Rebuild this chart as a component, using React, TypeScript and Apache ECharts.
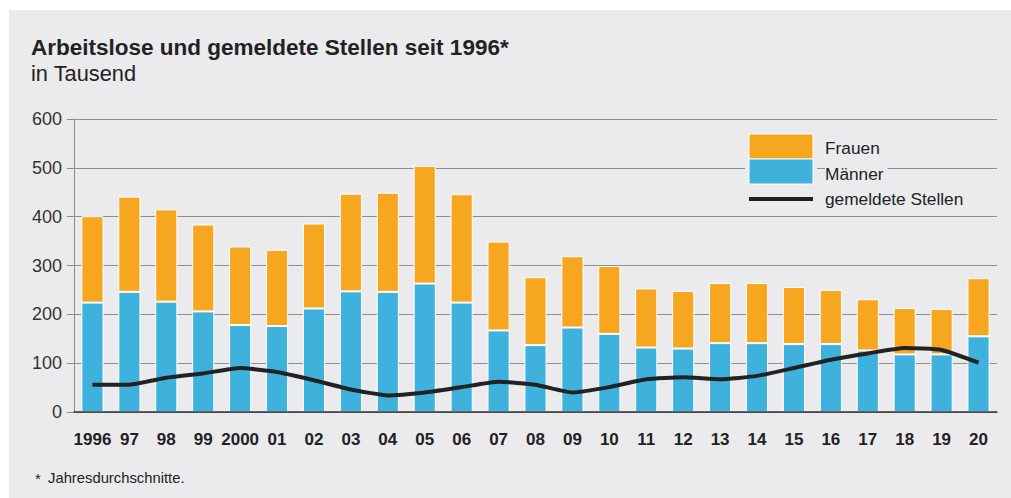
import React, { useEffect, useRef } from "react";
import * as echarts from "echarts";

const years = ["1996","97","98","99","2000","01","02","03","04","05","06","07","08","09","10","11","12","13","14","15","16","17","18","19","20"];
const maenner = [224,246,226,206,178,176,212,247,246,263,224,167,137,173,160,132,130,141,141,139,139,126,118,118,155];
const gesamt = [401,441,415,384,339,332,386,447,449,504,446,349,276,319,299,253,248,264,264,256,250,231,213,211,274];
const frauen = gesamt.map((g, i) => g - maenner[i]);
const stellen = [56,56,70,79,90,82,65,46,34,40,51,62,56,40,51,67,71,67,74,90,107,120,131,127,101];
const yTicks = [0,100,200,300,400,500,600];

const FONT = '"Liberation Sans", Arial, Helvetica, sans-serif';
const BG = "#ebebed";
const ORANGE = "#f7a61f";
const BLUE = "#3eb2dd";
const DARK = "#222222";

export default function App() {
  const ref = useRef<HTMLDivElement>(null);
  useEffect(() => {
    if (!ref.current) return;
    const chart = echarts.init(ref.current, undefined, { renderer: "svg" });
    chart.setOption({
      animation: false,
      backgroundColor: "#ffffff",
      textStyle: { fontFamily: FONT },
      grid: { left: 74, right: 14, top: 119, bottom: 86, containLabel: false },
      xAxis: {
        type: "category",
        data: years,
        axisTick: { show: false },
        axisLine: { show: true, lineStyle: { color: "#333333", width: 1.5 } },
        axisLabel: { color: DARK, fontSize: 17, fontWeight: "bold", margin: 19, fontFamily: FONT, interval: 0 },
        z: 5,
      },
      yAxis: {
        type: "value",
        min: yTicks[0],
        max: yTicks[yTicks.length - 1],
        interval: 100,
        axisLine: { show: true, lineStyle: { color: "#8c8c8c", width: 1 } },
        axisTick: { show: true, length: 7, lineStyle: { color: "#8c8c8c" }, inside: false },
        splitLine: { show: true, lineStyle: { color: "#8f8f8f", width: 1 } },
        axisLabel: { color: "#333333", fontSize: 18, margin: 12, fontFamily: FONT },
      },
      series: [
        {
          name: "Männer",
          type: "bar",
          stack: "a",
          data: maenner,
          barWidth: "60%",
          itemStyle: { color: BLUE, borderColor: "#ffffff", borderWidth: 1 },
          z: 2,
        },
        {
          name: "Frauen",
          type: "bar",
          stack: "a",
          data: frauen,
          barWidth: "60%",
          itemStyle: { color: ORANGE, borderColor: "#ffffff", borderWidth: 1 },
          z: 2,
        },
        {
          name: "gemeldete Stellen",
          type: "line",
          data: stellen,
          smooth: 0.15,
          symbol: "none",
          lineStyle: { color: DARK, width: 4 },
          z: 4,
        },
      ],
      graphic: [
        { type: "rect", z: -10, silent: true, shape: { x: 9, y: 10, width: 1002, height: 488 }, style: { fill: BG } },
        { type: "text", z: 10, x: 31, y: 47, style: { text: "Arbeitslose und gemeldete Stellen seit 1996*", font: `bold 22.5px ${FONT}`, fill: DARK, verticalAlign: "middle" } },
        { type: "text", z: 10, x: 31, y: 73, style: { text: "in Tausend", font: `21.8px ${FONT}`, fill: DARK, verticalAlign: "middle" } },
        { type: "text", z: 10, x: 35, y: 478, style: { text: "*", font: `15px ${FONT}`, fill: DARK, verticalAlign: "middle" } },
        { type: "text", z: 10, x: 48, y: 478, style: { text: "Jahresdurchschnitte.", font: `14.8px ${FONT}`, fill: DARK, verticalAlign: "middle" } },
        // legend
        { type: "rect", z: 100, shape: { x: 745, y: 130, width: 72, height: 74 }, style: { fill: BG } },
        { type: "rect", z: 101, shape: { x: 749, y: 134, width: 64, height: 25 }, style: { fill: ORANGE, stroke: "#ffffff", lineWidth: 1 } },
        { type: "rect", z: 101, shape: { x: 749, y: 159, width: 64, height: 25 }, style: { fill: BLUE, stroke: "#ffffff", lineWidth: 1 } },
        { type: "line", z: 101, shape: { x1: 749, y1: 199, x2: 813, y2: 199 }, style: { stroke: DARK, lineWidth: 4 } },
        { type: "text", z: 101, x: 825, y: 148, style: { text: "Frauen", font: `17.3px ${FONT}`, fill: DARK, verticalAlign: "middle", backgroundColor: BG, padding: [2, 4, 2, 0] } },
        { type: "text", z: 101, x: 825, y: 174, style: { text: "Männer", font: `17.3px ${FONT}`, fill: DARK, verticalAlign: "middle", backgroundColor: BG, padding: [2, 4, 2, 0] } },
        { type: "text", z: 101, x: 825, y: 199, style: { text: "gemeldete Stellen", font: `17.3px ${FONT}`, fill: DARK, verticalAlign: "middle", backgroundColor: BG, padding: [2, 4, 2, 0] } },
      ],
    });
    return () => chart.dispose();
  }, []);
  return <div ref={ref} style={{ position: "absolute", left: 0, top: 0, width: 1011, height: 498 }} />;
}
